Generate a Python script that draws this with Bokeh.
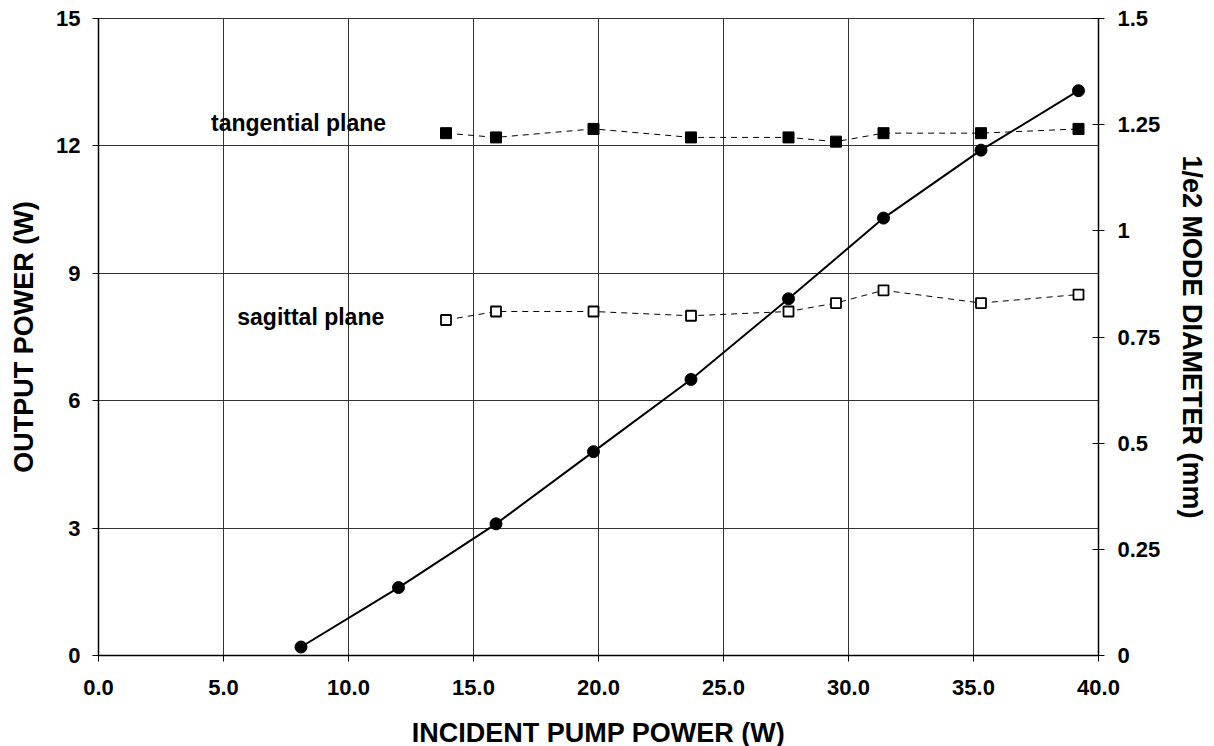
from bokeh.plotting import figure
from bokeh.models import (Range1d, LinearAxis, FixedTicker, NumeralTickFormatter)
from bokeh.core.properties import value
from bokeh.embed import file_html
from bokeh.resources import INLINE

# ---- data ----
pump = [8.1, 12.0, 15.9, 19.8, 23.7, 27.6, 31.4, 35.3, 39.2]
output_power = [0.2, 1.6, 3.1, 4.8, 6.5, 8.4, 10.3, 11.9, 13.3]

diam_pump = [13.9, 15.9, 19.8, 23.7, 27.6, 29.5, 31.4, 35.3, 39.2]
tangential = [1.23, 1.22, 1.24, 1.22, 1.22, 1.21, 1.23, 1.23, 1.24]
sagittal = [0.79, 0.81, 0.81, 0.80, 0.81, 0.83, 0.86, 0.83, 0.85]

x_ticks = [0, 5, 10, 15, 20, 25, 30, 35, 40]
y_ticks = [0, 3, 6, 9, 12, 15]
y2_ticks = [0, 0.25, 0.5, 0.75, 1.0, 1.25, 1.5]

labels_text = ["tangential plane", "sagittal plane"]
labels_x = [4.5, 5.55]
labels_y = [12.53, 7.96]

FONT = "Liberation Sans"

p = figure(frame_width=1000, frame_height=637, output_backend="svg",
           toolbar_location=None,
           x_range=Range1d(0, 40), y_range=Range1d(0, 15),
           min_border_left=98, min_border_right=108, min_border_top=18,
           min_border_bottom=91)
p.extra_y_ranges = {"diam": Range1d(0, 1.5)}

p.background_fill_color = "white"
p.border_fill_color = "white"
p.outline_line_color = "#333333"
p.outline_line_width = 1

# grid
p.xgrid.ticker = FixedTicker(ticks=x_ticks)
p.ygrid.ticker = FixedTicker(ticks=y_ticks)
for g in (p.xgrid, p.ygrid):
    g.grid_line_color = "#333333"
    g.grid_line_width = 1

# axes
xa = p.xaxis[0]
xa.ticker = FixedTicker(ticks=x_ticks)
xa.formatter = NumeralTickFormatter(format="0.0")
xa.axis_label = "INCIDENT PUMP POWER (W)"

ya = p.yaxis[0]
ya.ticker = FixedTicker(ticks=y_ticks)
ya.formatter = NumeralTickFormatter(format="0")
ya.axis_label = "OUTPUT POWER (W)"

y2 = LinearAxis(y_range_name="diam", axis_label="1/e2 MODE DIAMETER (mm)")
y2.ticker = FixedTicker(ticks=y2_ticks)
y2.formatter = NumeralTickFormatter(format="0.[00]")
p.add_layout(y2, "right")

for ax in (xa, ya, y2):
    ax.axis_line_color = "black"
    ax.axis_line_width = 1.5
    ax.major_tick_line_color = "black"
    ax.major_tick_line_width = 1
    ax.minor_tick_line_color = None
    ax.major_tick_out = 6
    ax.major_tick_in = 0
    ax.major_label_text_font = FONT
    ax.major_label_text_font_style = "bold"
    ax.major_label_text_font_size = "22px"
    ax.major_label_text_color = "black"
    ax.axis_label_text_font = FONT
    ax.axis_label_text_font_style = "bold"
    ax.axis_label_text_font_size = "27px"
    ax.axis_label_text_color = "black"

y2.major_tick_in = 6
xa.major_label_standoff = 18
xa.axis_label_standoff = 20
ya.major_label_standoff = 12
ya.axis_label_standoff = 14
y2.major_label_standoff = 13
y2.axis_label_standoff = 14

# output power line
p.line(pump, output_power, line_color="black", line_width=2)
p.scatter(pump, output_power, marker="circle", size=12, fill_color="black",
          line_color="black")

# tangential (filled squares)
p.line(diam_pump, tangential, y_range_name="diam", line_color="black",
       line_width=1, line_dash="6 5")
p.scatter(diam_pump, tangential, y_range_name="diam", marker="square", size=11,
          fill_color="black", line_color="black")

# sagittal (open squares)
p.line(diam_pump, sagittal, y_range_name="diam", line_color="black",
       line_width=1, line_dash="6 5")
p.scatter(diam_pump, sagittal, y_range_name="diam", marker="square", size=10,
          fill_color="white", line_color="black", line_width=1.8)

p.text(x=labels_x, y=labels_y, text=labels_text, text_font=value(FONT),
       text_font_style="bold", text_font_size="23px", text_color="black",
       text_align="left", text_baseline="middle")

open("out.html", "w").write(file_html(p, INLINE))
